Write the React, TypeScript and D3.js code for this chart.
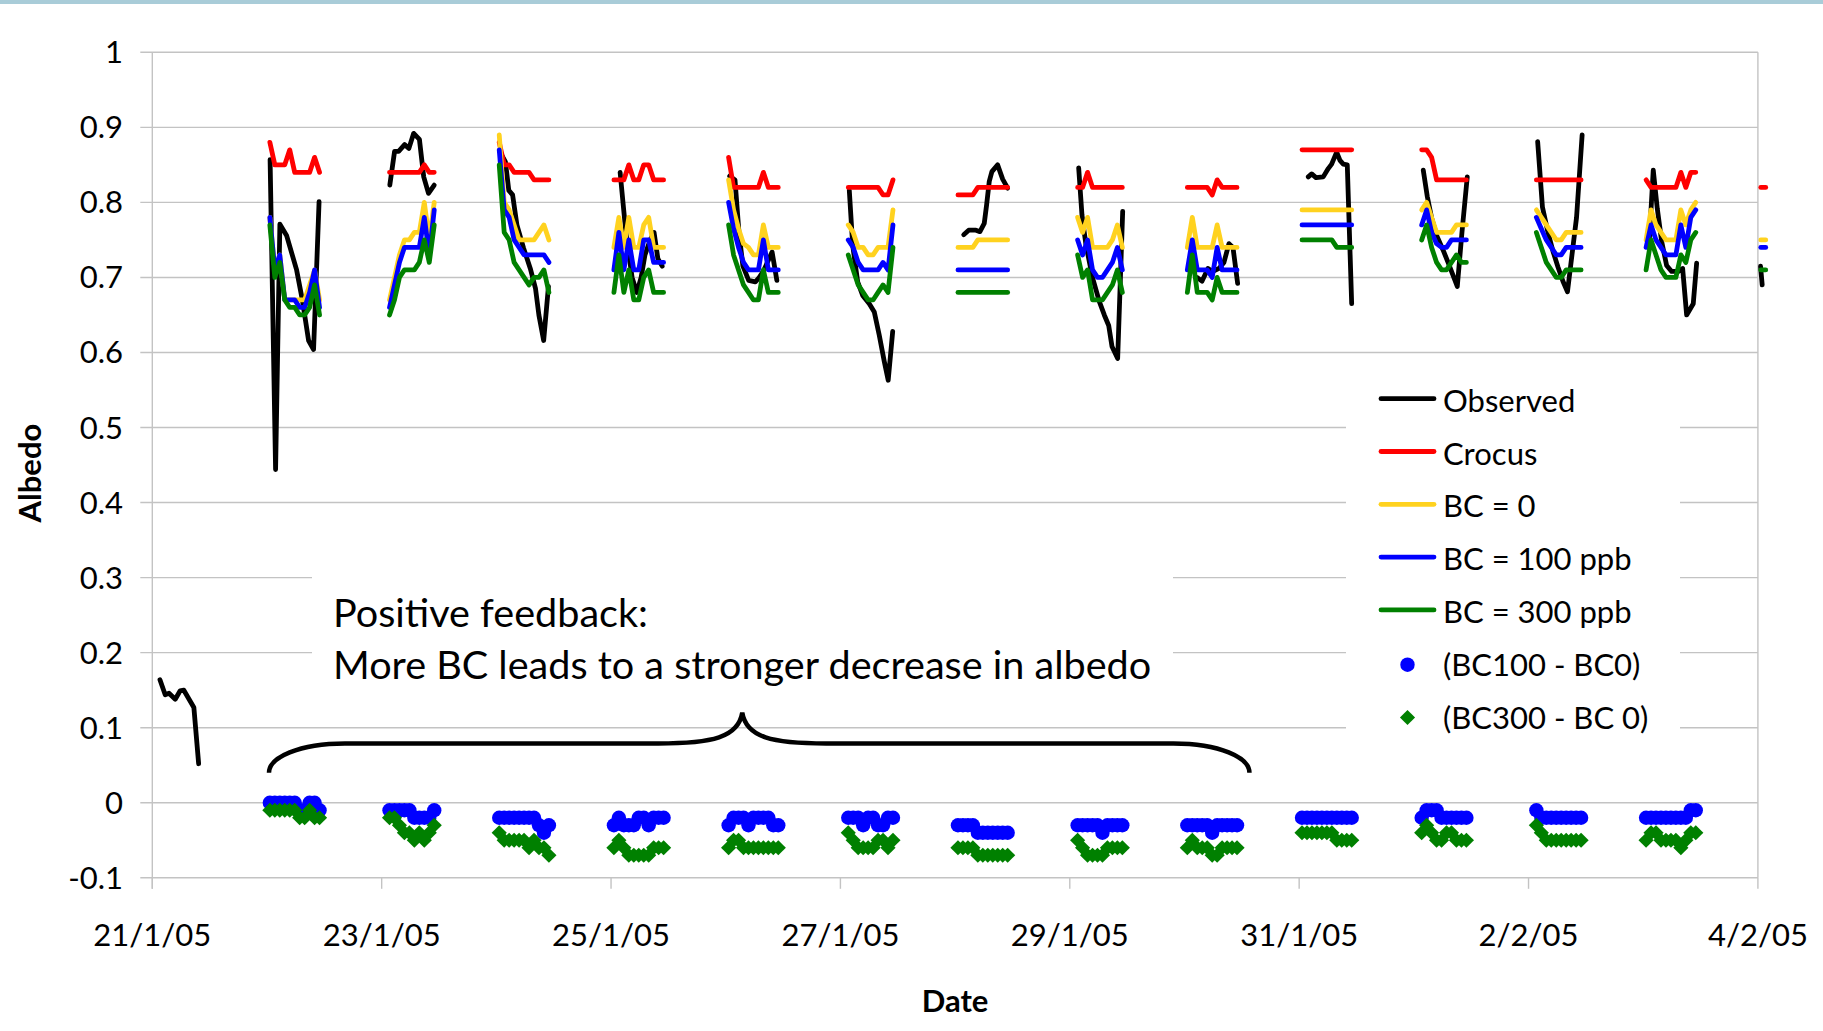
import React from "react";
import * as d3 from "d3";

const WIDTH = 1823;
const HEIGHT = 1031;
const FONT = "Lato, 'Open Sans', sans-serif";

// Hour of day of each hourly model output step.
const STEP_HOURS = [0.6, 1.64, 2.68, 3.72, 4.76, 5.8, 6.84, 7.88, 8.92, 9.96, 11.0];

const RUN_DATES = [
  "2005-01-22", "2005-01-23", "2005-01-24", "2005-01-25", "2005-01-26", "2005-01-27", "2005-01-28",
  "2005-01-29", "2005-01-30", "2005-01-31", "2005-02-01", "2005-02-02", "2005-02-03", "2005-02-04",
];
// Index of the first available hourly step on each run day.
const RUN_FIRST_STEP = [0, 1, 0, 0, 0, 1, 0, 1, 0, 0, 1, 1, 0, 0];

const CROCUS = [
  [0.88, 0.85, 0.85, 0.85, 0.87, 0.84, 0.84, 0.84, 0.84, 0.86, 0.84],
  [0.84, 0.84, 0.84, 0.84, 0.84, 0.84, 0.84, 0.85, 0.84, 0.84],
  [0.88, 0.85, 0.85, 0.84, 0.84, 0.84, 0.84, 0.83, 0.83, 0.83, 0.83],
  [0.83, 0.83, 0.83, 0.85, 0.83, 0.83, 0.85, 0.85, 0.83, 0.83, 0.83],
  [0.86, 0.82, 0.82, 0.82, 0.82, 0.82, 0.82, 0.84, 0.82, 0.82, 0.82],
  [0.82, 0.82, 0.82, 0.82, 0.82, 0.82, 0.82, 0.81, 0.81, 0.83],
  [0.81, 0.81, 0.81, 0.81, 0.82, 0.82, 0.82, 0.82, 0.82, 0.82, 0.82],
  [0.82, 0.82, 0.84, 0.82, 0.82, 0.82, 0.82, 0.82, 0.82, 0.82],
  [0.82, 0.82, 0.82, 0.82, 0.82, 0.81, 0.83, 0.82, 0.82, 0.82, 0.82],
  [0.87, 0.87, 0.87, 0.87, 0.87, 0.87, 0.87, 0.87, 0.87, 0.87, 0.87],
  [0.87, 0.87, 0.86, 0.83, 0.83, 0.83, 0.83, 0.83, 0.83, 0.83],
  [0.83, 0.83, 0.83, 0.83, 0.83, 0.83, 0.83, 0.83, 0.83, 0.83],
  [0.83, 0.82, 0.82, 0.82, 0.82, 0.82, 0.82, 0.84, 0.82, 0.84, 0.84],
  [0.82, 0.82],
];

const BC0 = [
  [0.78, 0.71, 0.73, 0.67, 0.67, 0.67, 0.67, 0.67, 0.69, 0.71, 0.67],
  [0.67, 0.70, 0.73, 0.75, 0.75, 0.76, 0.76, 0.80, 0.75, 0.80],
  [0.89, 0.80, 0.79, 0.77, 0.75, 0.75, 0.75, 0.75, 0.76, 0.77, 0.75],
  [0.74, 0.78, 0.74, 0.78, 0.74, 0.74, 0.77, 0.78, 0.74, 0.74, 0.74],
  [0.83, 0.79, 0.765, 0.745, 0.74, 0.73, 0.73, 0.77, 0.74, 0.74, 0.74],
  [0.77, 0.76, 0.74, 0.74, 0.73, 0.73, 0.74, 0.74, 0.74, 0.79],
  [0.74, 0.74, 0.74, 0.74, 0.75, 0.75, 0.75, 0.75, 0.75, 0.75, 0.75],
  [0.78, 0.76, 0.78, 0.74, 0.74, 0.74, 0.74, 0.75, 0.77, 0.74],
  [0.74, 0.78, 0.74, 0.74, 0.74, 0.74, 0.77, 0.74, 0.74, 0.74, 0.74],
  [0.79, 0.79, 0.79, 0.79, 0.79, 0.79, 0.79, 0.79, 0.79, 0.79, 0.79],
  [0.79, 0.80, 0.78, 0.76, 0.76, 0.76, 0.76, 0.77, 0.77, 0.77],
  [0.79, 0.78, 0.77, 0.76, 0.75, 0.75, 0.76, 0.76, 0.76, 0.76],
  [0.75, 0.79, 0.77, 0.76, 0.75, 0.75, 0.75, 0.79, 0.77, 0.79, 0.80],
  [0.75, 0.75],
];

const BC100 = [
  [0.78, 0.71, 0.73, 0.67, 0.67, 0.67, 0.66, 0.66, 0.68, 0.71, 0.66],
  [0.66, 0.69, 0.72, 0.74, 0.74, 0.74, 0.74, 0.78, 0.73, 0.79],
  [0.87, 0.79, 0.78, 0.75, 0.74, 0.73, 0.73, 0.73, 0.73, 0.73, 0.72],
  [0.71, 0.76, 0.71, 0.75, 0.71, 0.71, 0.75, 0.75, 0.72, 0.72, 0.72],
  [0.80, 0.765, 0.74, 0.72, 0.71, 0.71, 0.71, 0.75, 0.71, 0.71, 0.71],
  [0.75, 0.74, 0.72, 0.71, 0.71, 0.71, 0.71, 0.72, 0.71, 0.77],
  [0.71, 0.71, 0.71, 0.71, 0.71, 0.71, 0.71, 0.71, 0.71, 0.71, 0.71],
  [0.75, 0.73, 0.75, 0.71, 0.70, 0.70, 0.71, 0.72, 0.74, 0.71],
  [0.71, 0.75, 0.71, 0.71, 0.71, 0.70, 0.74, 0.71, 0.71, 0.71, 0.71],
  [0.77, 0.77, 0.77, 0.77, 0.77, 0.77, 0.77, 0.77, 0.77, 0.77, 0.77],
  [0.77, 0.79, 0.76, 0.745, 0.74, 0.74, 0.75, 0.75, 0.75, 0.75],
  [0.78, 0.765, 0.75, 0.74, 0.73, 0.73, 0.74, 0.74, 0.74, 0.74],
  [0.74, 0.77, 0.75, 0.74, 0.73, 0.73, 0.73, 0.77, 0.74, 0.78, 0.79],
  [0.74, 0.74],
];

const BC300 = [
  [0.77, 0.70, 0.72, 0.67, 0.66, 0.66, 0.65, 0.65, 0.66, 0.69, 0.65],
  [0.65, 0.67, 0.70, 0.71, 0.71, 0.71, 0.72, 0.75, 0.72, 0.77],
  [0.85, 0.76, 0.75, 0.72, 0.71, 0.70, 0.69, 0.70, 0.70, 0.71, 0.68],
  [0.68, 0.73, 0.68, 0.71, 0.67, 0.67, 0.70, 0.71, 0.68, 0.68, 0.68],
  [0.77, 0.73, 0.71, 0.69, 0.68, 0.67, 0.67, 0.71, 0.68, 0.68, 0.68],
  [0.73, 0.71, 0.69, 0.68, 0.67, 0.67, 0.68, 0.69, 0.68, 0.74],
  [0.68, 0.68, 0.68, 0.68, 0.68, 0.68, 0.68, 0.68, 0.68, 0.68, 0.68],
  [0.73, 0.70, 0.71, 0.67, 0.67, 0.67, 0.68, 0.69, 0.71, 0.68],
  [0.68, 0.73, 0.68, 0.68, 0.68, 0.67, 0.70, 0.68, 0.68, 0.68, 0.68],
  [0.75, 0.75, 0.75, 0.75, 0.75, 0.75, 0.75, 0.74, 0.74, 0.74, 0.74],
  [0.75, 0.77, 0.74, 0.72, 0.71, 0.71, 0.72, 0.73, 0.72, 0.72],
  [0.76, 0.74, 0.72, 0.71, 0.70, 0.70, 0.71, 0.71, 0.71, 0.71],
  [0.71, 0.75, 0.73, 0.71, 0.70, 0.70, 0.70, 0.73, 0.72, 0.75, 0.76],
  [0.71, 0.71],
];

const DIFF_BC100 = [
  [0, 0, 0, 0, 0, 0, -0.01, -0.01, 0, 0, -0.01],
  [-0.01, -0.01, -0.01, -0.01, -0.01, -0.02, -0.02, -0.02, -0.02, -0.01],
  [-0.02, -0.02, -0.02, -0.02, -0.02, -0.02, -0.02, -0.02, -0.03, -0.04, -0.03],
  [-0.03, -0.02, -0.03, -0.03, -0.03, -0.02, -0.02, -0.03, -0.02, -0.02, -0.02],
  [-0.03, -0.02, -0.02, -0.02, -0.03, -0.02, -0.02, -0.02, -0.02, -0.03, -0.03],
  [-0.02, -0.02, -0.02, -0.03, -0.02, -0.02, -0.03, -0.03, -0.02, -0.02],
  [-0.03, -0.03, -0.03, -0.03, -0.04, -0.04, -0.04, -0.04, -0.04, -0.04, -0.04],
  [-0.03, -0.03, -0.03, -0.03, -0.03, -0.04, -0.03, -0.03, -0.03, -0.03],
  [-0.03, -0.03, -0.03, -0.03, -0.03, -0.04, -0.03, -0.03, -0.03, -0.03, -0.03],
  [-0.02, -0.02, -0.02, -0.02, -0.02, -0.02, -0.02, -0.02, -0.02, -0.02, -0.02],
  [-0.02, -0.01, -0.01, -0.01, -0.02, -0.02, -0.02, -0.02, -0.02, -0.02],
  [-0.01, -0.02, -0.02, -0.02, -0.02, -0.02, -0.02, -0.02, -0.02, -0.02],
  [-0.02, -0.02, -0.02, -0.02, -0.02, -0.02, -0.02, -0.02, -0.02, -0.01, -0.01],
];

const DIFF_BC300 = [
  [-0.01, -0.01, -0.01, -0.01, -0.01, -0.01, -0.02, -0.02, -0.01, -0.02, -0.02],
  [-0.02, -0.02, -0.03, -0.04, -0.04, -0.05, -0.04, -0.05, -0.04, -0.03],
  [-0.04, -0.05, -0.05, -0.05, -0.05, -0.05, -0.06, -0.05, -0.06, -0.06, -0.07],
  [-0.06, -0.05, -0.06, -0.07, -0.07, -0.07, -0.07, -0.07, -0.06, -0.06, -0.06],
  [-0.06, -0.05, -0.05, -0.06, -0.06, -0.06, -0.06, -0.06, -0.06, -0.06, -0.06],
  [-0.04, -0.05, -0.06, -0.06, -0.06, -0.06, -0.05, -0.05, -0.06, -0.05],
  [-0.06, -0.06, -0.06, -0.06, -0.07, -0.07, -0.07, -0.07, -0.07, -0.07, -0.07],
  [-0.05, -0.06, -0.07, -0.07, -0.07, -0.07, -0.06, -0.06, -0.06, -0.06],
  [-0.06, -0.05, -0.06, -0.06, -0.06, -0.07, -0.07, -0.06, -0.06, -0.06, -0.06],
  [-0.04, -0.04, -0.04, -0.04, -0.04, -0.04, -0.04, -0.05, -0.05, -0.05, -0.05],
  [-0.04, -0.03, -0.04, -0.05, -0.05, -0.04, -0.04, -0.05, -0.05, -0.05],
  [-0.03, -0.04, -0.05, -0.05, -0.05, -0.05, -0.05, -0.05, -0.05, -0.05],
  [-0.05, -0.04, -0.04, -0.05, -0.05, -0.05, -0.05, -0.06, -0.05, -0.04, -0.04],
];

// Observed albedo: date, hour of day, value.
const OBS_DATES = [
  "2005-01-21", "2005-01-22", "2005-01-23", "2005-01-24", "2005-01-25", "2005-01-26", "2005-01-27",
  "2005-01-28", "2005-01-29", "2005-01-30", "2005-01-31", "2005-02-01", "2005-02-02", "2005-02-03",
  "2005-02-04",
];
const OBS_HOURS = [
  [1.6, 2.7, 3.5, 4.8, 5.8, 6.6, 8.7, 9.7],
  [0.65, 1.8, 2.7, 4.1, 6.2, 7.4, 8.7, 9.75, 10.9],
  [1.7, 2.7, 3.55, 4.8, 5.7, 6.7, 7.9, 8.8, 9.8, 11.0],
  [0.7, 1.9, 2.6, 3.4, 4.3, 5.7, 7.1, 8.2, 8.9, 9.9, 10.9],
  [1.9, 3.1, 4.4, 5.4, 6.3, 7.1, 8.2, 9.0, 9.8, 10.7],
  [0.83, 1.94, 2.77, 3.6, 4.8, 6.2, 6.9, 8.0, 9.7, 10.7],
  [1.86, 2.57, 3.61, 4.66, 6.04, 7.09, 8.13, 9.18, 10.0, 10.94],
  [1.8, 2.84, 4.37, 5.2, 6.1, 6.6, 7.15, 7.7, 8.9, 9.95, 11.0],
  [1.86, 2.55, 3.39, 4.79, 6.17, 7.22, 8.14, 8.83, 10.02, 11.07],
  [2.61, 3.66, 4.92, 5.96, 7.22, 8.26, 9.31, 10.15, 11.13],
  [1.91, 2.62, 3.52, 5.04, 6.09, 6.8, 7.85, 8.54, 9.23, 10.07, 10.99],
  [1.97, 2.81, 3.73, 4.77, 6.09, 7.22, 9.09, 10.07, 11.18],
  [1.91, 2.91, 4.07, 5.11, 6.16, 7.2, 8.15, 9.09, 10.05, 11.22],
  [1.26, 2.1, 2.94, 3.86, 4.9, 5.95, 7.33, 8.25, 9.09, 10.47, 11.18],
  [0.55, 0.9],
];
const OBS_ALBEDO = [
  [0.164, 0.144, 0.146, 0.138, 0.149, 0.15, 0.127, 0.052],
  [0.857, 0.444, 0.771, 0.756, 0.71, 0.67, 0.616, 0.604, 0.801],
  [0.823, 0.868, 0.868, 0.877, 0.872, 0.892, 0.884, 0.834, 0.812, 0.823],
  [0.868, 0.854, 0.816, 0.81, 0.77, 0.739, 0.712, 0.685, 0.65, 0.616, 0.688],
  [0.84, 0.76, 0.7, 0.68, 0.7, 0.73, 0.75, 0.76, 0.725, 0.715],
  [0.835, 0.83, 0.76, 0.715, 0.696, 0.694, 0.699, 0.71, 0.734, 0.696],
  [0.816, 0.743, 0.694, 0.676, 0.665, 0.654, 0.623, 0.588, 0.563, 0.628],
  [0.757, 0.763, 0.763, 0.761, 0.772, 0.797, 0.828, 0.841, 0.85, 0.831, 0.819],
  [0.846, 0.783, 0.743, 0.699, 0.668, 0.65, 0.636, 0.608, 0.592, 0.788],
  [0.7, 0.695, 0.712, 0.708, 0.712, 0.72, 0.745, 0.74, 0.692],
  [0.834, 0.838, 0.833, 0.834, 0.845, 0.851, 0.867, 0.856, 0.851, 0.85, 0.665],
  [0.843, 0.808, 0.779, 0.756, 0.737, 0.719, 0.688, 0.76, 0.834],
  [0.881, 0.794, 0.76, 0.735, 0.714, 0.695, 0.681, 0.73, 0.78, 0.89],
  [0.748, 0.843, 0.792, 0.748, 0.716, 0.708, 0.708, 0.712, 0.65, 0.665, 0.719],
  [0.715, 0.69],
];

const Y_TICKS = [-0.1, 0, 0.1, 0.2, 0.3, 0.4, 0.5, 0.6, 0.7, 0.8, 0.9, 1];
const X_START = "2005-01-21";
const X_END = "2005-02-04";
const X_TICK_STEP_DAYS = 2;

const NOTE_LINES = ["Positive feedback:", "More BC leads to a stronger decrease in albedo"];

const COLORS = {
  obs: "#000000",
  crocus: "#ff0000",
  bc0: "#ffd21f",
  bc100: "#0000ff",
  bc300: "#008000",
  grid: "#c3c3c3",
  band: "#a9ccd8",
};

const LEGEND = [
  { label: "Observed", color: COLORS.obs, kind: "line" },
  { label: "Crocus", color: COLORS.crocus, kind: "line" },
  { label: "BC = 0", color: COLORS.bc0, kind: "line" },
  { label: "BC = 100 ppb", color: COLORS.bc100, kind: "line" },
  { label: "BC = 300 ppb", color: COLORS.bc300, kind: "line" },
  { label: "(BC100 - BC0)", color: COLORS.bc100, kind: "circle" },
  { label: "(BC300 - BC 0)", color: COLORS.bc300, kind: "diamond" },
];

type Pt = { t: Date; v: number };

export default function App() {
  const parseDay = d3.timeParse("%Y-%m-%d");
  const at = (day: string, h: number) => new Date(+(parseDay(day) as Date) + h * 3600 * 1000);

  const plot = { left: 152.3, right: 1757.9, top: 52.3, bottom: 877.8 };
  const x = d3
    .scaleTime()
    .domain([parseDay(X_START) as Date, parseDay(X_END) as Date])
    .range([plot.left, plot.right]);
  const y = d3.scaleLinear().domain([-0.1, 1]).range([plot.bottom, plot.top]);

  const xTicks = d3
    .range(0, d3.timeDay.count(x.domain()[0], x.domain()[1]) + 1, X_TICK_STEP_DAYS)
    .map((i) => d3.timeDay.offset(x.domain()[0], i));
  const fmtDate = d3.timeFormat("%-d/%-m/%y");
  const fmtY = (v: number) => String(+v.toFixed(1));

  const line = d3
    .line<Pt>()
    .x((d) => x(d.t))
    .y((d) => y(d.v));

  const runSegments = (series: number[][]): Pt[][] =>
    series.map((vals, i) =>
      vals.map((v, j) => ({ t: at(RUN_DATES[i], STEP_HOURS[RUN_FIRST_STEP[i] + j]), v }))
    );
  const obsSegments: Pt[][] = OBS_DATES.map((day, i) =>
    OBS_HOURS[i].map((h, j) => ({ t: at(day, h), v: OBS_ALBEDO[i][j] }))
  );

  const lineSeries = [
    { key: "obs", segs: obsSegments, color: COLORS.obs },
    { key: "crocus", segs: runSegments(CROCUS), color: COLORS.crocus },
    { key: "bc0", segs: runSegments(BC0), color: COLORS.bc0 },
    { key: "bc100", segs: runSegments(BC100), color: COLORS.bc100 },
    { key: "bc300", segs: runSegments(BC300), color: COLORS.bc300 },
  ];
  const diff100 = runSegments(DIFF_BC100).flat();
  const diff300 = runSegments(DIFF_BC300).flat();

  const diamond = d3.symbol().type(d3.symbolSquare).size(115)() as string;

  // curly brace spanning the run days, built in data space
  const bx0 = x(at("2005-01-22", 0.42));
  const bx1 = x(at("2005-01-30", 13.6));
  const bxm = x(at("2005-01-26", 3.46));
  const byFoot = y(0.04);
  const byBar = y(0.079);
  const byTip = y(0.12);
  const bp = d3.path();
  bp.moveTo(bx0, byFoot);
  bp.bezierCurveTo(bx0, byBar + 14, bx0 + 30, byBar, bx0 + 76, byBar);
  bp.lineTo(bxm - 84, byBar);
  bp.bezierCurveTo(bxm - 30, byBar, bxm - 4, byBar - 6, bxm, byTip);
  bp.bezierCurveTo(bxm + 4, byBar - 6, bxm + 30, byBar, bxm + 84, byBar);
  bp.lineTo(bx1 - 76, byBar);
  bp.bezierCurveTo(bx1 - 30, byBar, bx1, byBar + 14, bx1, byFoot);

  const legendX = 1381;
  const legendBase = 411.7;
  const legendStep = 52.8;

  return (
    <svg
      width={WIDTH}
      height={HEIGHT}
      viewBox={`0 0 ${WIDTH} ${HEIGHT}`}
      style={{ position: "absolute", left: 0, top: 0, display: "block", background: "#fff" }}
      fontFamily={FONT}
    >
      <rect x={0} y={0} width={WIDTH} height={HEIGHT} fill="#fff" />
      <rect x={0} y={0} width={WIDTH} height={4} fill={COLORS.band} />

      {/* horizontal gridlines with outside ticks */}
      {Y_TICKS.map((v) => (
        <line
          key={`g${v}`}
          x1={plot.left - 12}
          x2={plot.right}
          y1={y(v)}
          y2={y(v)}
          stroke={COLORS.grid}
          strokeWidth={1.4}
        />
      ))}
      {/* axis lines and plot border */}
      <line x1={plot.left} x2={plot.left} y1={plot.top} y2={plot.bottom + 11} stroke={COLORS.grid} strokeWidth={1.4} />
      <line x1={plot.right} x2={plot.right} y1={plot.top} y2={plot.bottom} stroke={COLORS.grid} strokeWidth={1.4} />
      {xTicks.map((d) => (
        <line
          key={`xt${+d}`}
          x1={x(d)}
          x2={x(d)}
          y1={plot.bottom}
          y2={plot.bottom + 11}
          stroke={COLORS.grid}
          strokeWidth={1.4}
        />
      ))}

      {/* annotation and legend backgrounds */}
      <rect x={312} y={560} width={861} height={140} fill="#fff" />
      <rect x={1346} y={372} width={334} height={372} fill="#fff" />

      {/* tick labels */}
      {Y_TICKS.map((v) => (
        <text key={`yl${v}`} x={123} y={y(v) + 11} textAnchor="end" fontSize={31} fill="#000">
          {fmtY(v)}
        </text>
      ))}
      {xTicks.map((d) => (
        <text key={`xl${+d}`} x={x(d)} y={946} textAnchor="middle" fontSize={31} fill="#000">
          {fmtDate(d)}
        </text>
      ))}

      {/* axis titles */}
      <text
        transform={`translate(41,${(plot.top + plot.bottom) / 2 + 8}) rotate(-90)`}
        textAnchor="middle"
        fontSize={31}
        fontWeight="bold"
      >
        Albedo
      </text>
      <text x={(plot.left + plot.right) / 2} y={1012} textAnchor="middle" fontSize={31} fontWeight="bold">
        Date
      </text>

      {/* series lines */}
      {lineSeries.map((s) => (
        <g key={s.key} fill="none" stroke={s.color} strokeWidth={4.8} strokeLinejoin="round" strokeLinecap="round">
          {s.segs.map((seg, i) => (
            <path key={i} d={line(seg) as string} />
          ))}
        </g>
      ))}

      {/* difference markers */}
      <g fill={COLORS.bc100}>
        {diff100.map((d, i) => (
          <circle key={i} cx={x(d.t)} cy={y(d.v)} r={7.2} />
        ))}
      </g>
      <g fill={COLORS.bc300}>
        {diff300.map((d, i) => (
          <path key={i} d={diamond} transform={`translate(${x(d.t)},${y(d.v)}) rotate(45)`} />
        ))}
      </g>

      {/* brace and note */}
      <path d={bp.toString()} fill="none" stroke="#000" strokeWidth={4.5} />
      {NOTE_LINES.map((t, i) => (
        <text key={t} x={333} y={627 + i * 51.5} fontSize={39.6} fill="#000">
          {t}
        </text>
      ))}

      {/* legend */}
      {LEGEND.map((item, i) => {
        const base = legendBase + i * legendStep;
        const cy = base - 12;
        return (
          <g key={item.label}>
            {item.kind === "line" && (
              <line
                x1={legendX}
                x2={legendX + 53}
                y1={cy - 1}
                y2={cy - 1}
                stroke={item.color}
                strokeWidth={4.8}
                strokeLinecap="round"
              />
            )}
            {item.kind === "circle" && <circle cx={legendX + 26.5} cy={cy + 1} r={7.2} fill={item.color} />}
            {item.kind === "diamond" && (
              <path d={diamond} transform={`translate(${legendX + 26.5},${cy + 1}) rotate(45)`} fill={item.color} />
            )}
            <text x={1443} y={base} fontSize={31} fill="#000">
              {item.label}
            </text>
          </g>
        );
      })}
    </svg>
  );
}
